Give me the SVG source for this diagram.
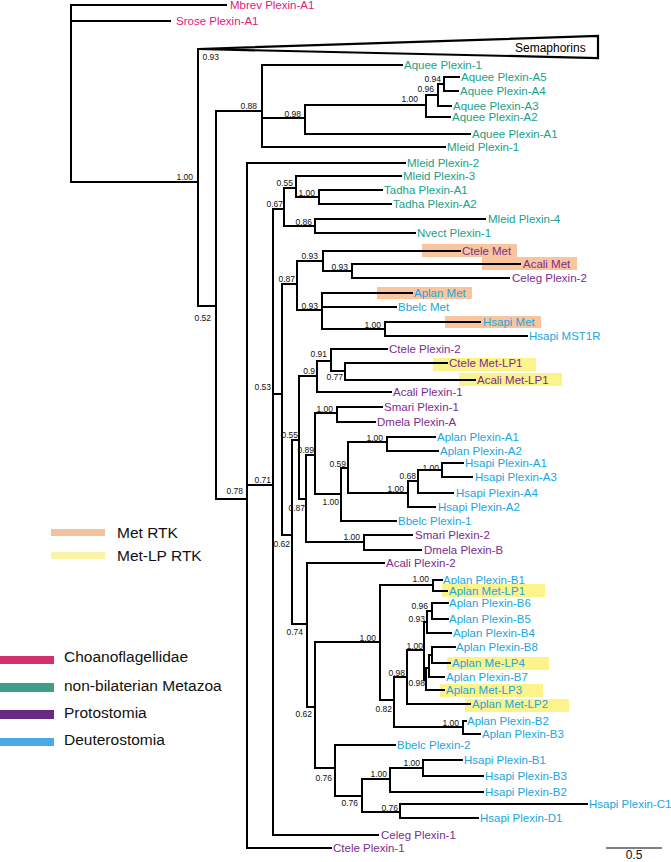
<svg xmlns="http://www.w3.org/2000/svg" width="671" height="862" viewBox="0 0 671 862">
<style>
text{font-family:"Liberation Sans",Arial,sans-serif}
.t{font-size:11.5px}
.ch{fill:#e0197d}.nb{fill:#1aa088}.pr{fill:#7b2c8c}.de{fill:#21a5e0}
.s{font-size:8.5px;fill:#111;text-anchor:end}
.lg{font-size:15.5px;fill:#111}
.met{fill:#f8c59e}.lp{fill:#fcf38a}
.br{fill:none;stroke:#000;stroke-width:2;stroke-linecap:square}
</style>
<rect width="671" height="862" fill="#fff"/>
<g id="leaves">
<g id="mbrev-plexin-a1"><text class="t ch" x="230" y="9">Mbrev Plexin-A1</text></g>
<g id="srose-plexin-a1"><text class="t ch" x="176" y="25">Srose Plexin-A1</text></g>
<g id="aquee-plexin-1"><text class="t nb" x="404" y="69">Aquee Plexin-1</text></g>
<g id="aquee-plexin-a5"><text class="t nb" x="461" y="81">Aquee Plexin-A5</text></g>
<g id="aquee-plexin-a4"><text class="t nb" x="460" y="95">Aquee Plexin-A4</text></g>
<g id="aquee-plexin-a3"><text class="t nb" x="453" y="110">Aquee Plexin-A3</text></g>
<g id="aquee-plexin-a2"><text class="t nb" x="452" y="121">Aquee Plexin-A2</text></g>
<g id="aquee-plexin-a1"><text class="t nb" x="472" y="138">Aquee Plexin-A1</text></g>
<g id="mleid-plexin-1"><text class="t nb" x="447" y="151">Mleid Plexin-1</text></g>
<g id="mleid-plexin-2"><text class="t nb" x="407" y="167">Mleid Plexin-2</text></g>
<g id="mleid-plexin-3"><text class="t nb" x="403" y="180">Mleid Plexin-3</text></g>
<g id="tadha-plexin-a1"><text class="t nb" x="384" y="194">Tadha Plexin-A1</text></g>
<g id="tadha-plexin-a2"><text class="t nb" x="393" y="208">Tadha Plexin-A2</text></g>
<g id="mleid-plexin-4"><text class="t nb" x="488" y="223">Mleid Plexin-4</text></g>
<g id="nvect-plexin-1"><text class="t nb" x="417" y="237">Nvect Plexin-1</text></g>
<g id="ctele-met"><rect class="met" x="422" y="244" width="95" height="13"/><text class="t pr" x="462" y="255">Ctele Met</text></g>
<g id="acali-met"><rect class="met" x="482" y="257" width="95" height="13"/><text class="t pr" x="523" y="268">Acali Met</text></g>
<g id="celeg-plexin-2"><text class="t pr" x="512" y="282">Celeg Plexin-2</text></g>
<g id="aplan-met"><rect class="met" x="377" y="287" width="95" height="12"/><text class="t de" x="414" y="297">Aplan Met</text></g>
<g id="bbelc-met"><text class="t de" x="398" y="311">Bbelc Met</text></g>
<g id="hsapi-met"><rect class="met" x="445" y="316" width="96" height="12"/><text class="t de" x="483" y="326">Hsapi Met</text></g>
<g id="hsapi-mst1r"><text class="t de" x="529" y="340">Hsapi MST1R</text></g>
<g id="ctele-plexin-2"><text class="t pr" x="389" y="353">Ctele Plexin-2</text></g>
<g id="ctele-met-lp1"><rect class="lp" x="433" y="358" width="103" height="13"/><text class="t pr" x="449" y="367">Ctele Met-LP1</text></g>
<g id="acali-met-lp1"><rect class="lp" x="459" y="373" width="103" height="13"/><text class="t pr" x="477" y="384">Acali Met-LP1</text></g>
<g id="acali-plexin-1"><text class="t pr" x="393" y="396">Acali Plexin-1</text></g>
<g id="smari-plexin-1"><text class="t pr" x="384" y="411">Smari Plexin-1</text></g>
<g id="dmela-plexin-a"><text class="t pr" x="377" y="426">Dmela Plexin-A</text></g>
<g id="aplan-plexin-a1"><text class="t de" x="437" y="441">Aplan Plexin-A1</text></g>
<g id="aplan-plexin-a2"><text class="t de" x="440" y="455">Aplan Plexin-A2</text></g>
<g id="hsapi-plexin-a1"><text class="t de" x="465" y="467">Hsapi Plexin-A1</text></g>
<g id="hsapi-plexin-a3"><text class="t de" x="475" y="481">Hsapi Plexin-A3</text></g>
<g id="hsapi-plexin-a4"><text class="t de" x="456" y="497">Hsapi Plexin-A4</text></g>
<g id="hsapi-plexin-a2"><text class="t de" x="438" y="511">Hsapi Plexin-A2</text></g>
<g id="bbelc-plexin-1"><text class="t de" x="398" y="525">Bbelc Plexin-1</text></g>
<g id="smari-plexin-2"><text class="t pr" x="415" y="539">Smari Plexin-2</text></g>
<g id="dmela-plexin-b"><text class="t pr" x="424" y="554">Dmela Plexin-B</text></g>
<g id="acali-plexin-2"><text class="t pr" x="386" y="567">Acali Plexin-2</text></g>
<g id="aplan-plexin-b1"><text class="t de" x="443" y="584">Aplan Plexin-B1</text></g>
<g id="aplan-met-lp1"><rect class="lp" x="442" y="584" width="103" height="13"/><text class="t de" x="449" y="595">Aplan Met-LP1</text></g>
<g id="aplan-plexin-b6"><text class="t de" x="449" y="607">Aplan Plexin-B6</text></g>
<g id="aplan-plexin-b5"><text class="t de" x="449" y="623">Aplan Plexin-B5</text></g>
<g id="aplan-plexin-b4"><text class="t de" x="453" y="637">Aplan Plexin-B4</text></g>
<g id="aplan-plexin-b8"><text class="t de" x="456" y="651">Aplan Plexin-B8</text></g>
<g id="aplan-me-lp4"><rect class="lp" x="447" y="657" width="102" height="13"/><text class="t de" x="452" y="667">Aplan Me-LP4</text></g>
<g id="aplan-plexin-b7"><text class="t de" x="446" y="681">Aplan Plexin-B7</text></g>
<g id="aplan-met-lp3"><rect class="lp" x="440" y="684" width="103" height="13"/><text class="t de" x="446" y="694">Aplan Met-LP3</text></g>
<g id="aplan-met-lp2"><rect class="lp" x="465" y="699" width="104" height="13"/><text class="t de" x="472" y="708">Aplan Met-LP2</text></g>
<g id="aplan-plexin-b2"><text class="t de" x="467" y="725">Aplan Plexin-B2</text></g>
<g id="aplan-plexin-b3"><text class="t de" x="482" y="738">Aplan Plexin-B3</text></g>
<g id="bbelc-plexin-2"><text class="t de" x="397" y="749">Bbelc Plexin-2</text></g>
<g id="hsapi-plexin-b1"><text class="t de" x="464" y="764">Hsapi Plexin-B1</text></g>
<g id="hsapi-plexin-b3"><text class="t de" x="485" y="780">Hsapi Plexin-B3</text></g>
<g id="hsapi-plexin-b2"><text class="t de" x="485" y="796">Hsapi Plexin-B2</text></g>
<g id="hsapi-plexin-c1"><text class="t de" x="589" y="808">Hsapi Plexin-C1</text></g>
<g id="hsapi-plexin-d1"><text class="t de" x="480" y="822">Hsapi Plexin-D1</text></g>
<g id="celeg-plexin-1"><text class="t pr" x="381" y="839">Celeg Plexin-1</text></g>
<g id="ctele-plexin-1"><text class="t pr" x="333" y="852">Ctele Plexin-1</text></g>
</g>
<g id="semaphorins">
<polygon points="198,49 598,36 598,58" fill="#fff" stroke="#000" stroke-width="2.2" stroke-linejoin="miter"/>
<text x="515" y="52" font-size="12" fill="#000">Semaphorins</text>
</g>
<g id="connectors">
<path class="br" d="M71 5V182M198 49V306M216 111V499M262 65V147M305 105V134M426 95V117M438 84V106M444 77V91M247 163V848M273 209V835M284 188V226M296 176V197M319 190V204M315 219V233M282 284V535M297 261V310M323 251V271M352 264V278M322 293V329M385 322V336M292 440V624M299 376V499M317 361V392M331 349V371M345 363V380M306 455V542M315 413V494M337 407V422M341 468V521M348 442V493M387 437V451M408 481V507M418 470V493M442 463V477M364 535V550M307 563V707M315 642V768M380 585V700M433 580V591M394 677V727M407 650V704M424 622V680M427 611V633M432 603V619M426 668V690M429 655V677M432 647V663M463 721V734M335 745V796M362 779V812M390 768V792M423 760V776M400 804V818"/>
<path class="br" d="M71 5H226M71 21H170M71 182H198M198 306H216M216 111H262M262 65H402M262 118H305M305 105H426M426 95H438M438 84H444M444 77H459M444 91H458M438 106H451M426 117H450M305 134H470M262 147H445M216 499H247M247 163H405M247 485H273M273 209H284M284 188H296M296 176H401M296 197H319M319 190H382M319 204H391M284 226H315M315 219H485M315 233H415M273 394H282M282 284H297M297 261H323M323 251H460M323 271H352M352 264H520M352 278H509M297 310H322M322 293H412M322 307H396M322 329H385M385 322H480M385 336H527M282 535H292M292 440H299M299 376H317M317 361H331M331 349H387M331 371H345M345 363H447M345 380H475M317 392H391M299 499H306M306 455H315M315 413H337M337 407H382M337 422H375M315 494H341M341 468H348M348 442H387M387 437H435M387 451H438M348 493H408M408 481H418M418 470H442M442 463H463M442 477H472M418 493H453M408 507H435M341 521H396M306 542H364M364 535H412M364 550H421M292 624H307M307 563H384M307 707H315M315 642H380M380 585H433M433 580H442M433 591H447M380 700H394M394 677H407M407 650H424M424 622H427M427 611H432M432 603H448M432 619H448M427 633H451M424 680H426M426 668H429M429 655H432M432 647H455M432 663H450M429 677H444M426 690H444M407 704H470M394 727H463M463 721H466M463 734H480M315 768H335M335 745H395M335 796H362M362 779H390M390 768H423M423 760H462M423 776H483M390 792H483M362 812H400M400 804H587M400 818H478M273 835H378M247 848H331"/>
</g>
<g id="support-values">
<text class="s" x="219" y="60">0.93</text>
<text class="s" x="193" y="180">1.00</text>
<text class="s" x="257" y="109">0.88</text>
<text class="s" x="301" y="117">0.98</text>
<text class="s" x="418" y="102">1.00</text>
<text class="s" x="434" y="92">0.96</text>
<text class="s" x="441" y="82">0.94</text>
<text class="s" x="211" y="321">0.52</text>
<text class="s" x="293" y="186">0.55</text>
<text class="s" x="315" y="196">1.00</text>
<text class="s" x="283" y="207">0.67</text>
<text class="s" x="312" y="225">0.86</text>
<text class="s" x="318" y="259">0.93</text>
<text class="s" x="348" y="270">0.93</text>
<text class="s" x="295" y="282">0.87</text>
<text class="s" x="318" y="309">0.93</text>
<text class="s" x="381" y="328">1.00</text>
<text class="s" x="327" y="357">0.91</text>
<text class="s" x="315" y="374">0.9</text>
<text class="s" x="343" y="380">0.77</text>
<text class="s" x="271" y="390">0.53</text>
<text class="s" x="333" y="412">1.00</text>
<text class="s" x="298" y="438">0.55</text>
<text class="s" x="314" y="453">0.89</text>
<text class="s" x="383" y="441">1.00</text>
<text class="s" x="346" y="467">0.59</text>
<text class="s" x="439" y="471">1.00</text>
<text class="s" x="416" y="479">0.68</text>
<text class="s" x="404" y="492">1.00</text>
<text class="s" x="271" y="483">0.71</text>
<text class="s" x="243" y="494">0.78</text>
<text class="s" x="339" y="505">1.00</text>
<text class="s" x="305" y="511">0.87</text>
<text class="s" x="360" y="540">1.00</text>
<text class="s" x="290" y="547">0.62</text>
<text class="s" x="429" y="582">1.00</text>
<text class="s" x="428" y="609">0.96</text>
<text class="s" x="425" y="622">0.93</text>
<text class="s" x="303" y="635">0.74</text>
<text class="s" x="376" y="641">1.00</text>
<text class="s" x="423" y="649">1.00</text>
<text class="s" x="405" y="676">0.98</text>
<text class="s" x="425" y="686">0.98</text>
<text class="s" x="392" y="712">0.82</text>
<text class="s" x="312" y="717">0.62</text>
<text class="s" x="459" y="726">1.00</text>
<text class="s" x="332" y="781">0.76</text>
<text class="s" x="358" y="806">0.76</text>
<text class="s" x="387" y="777">1.00</text>
<text class="s" x="420" y="766">1.00</text>
<text class="s" x="398" y="811">0.76</text>
</g>
<g id="scale-bar">
<path d="M606 848H662" stroke="#000" stroke-width="1.2"/>
<text x="634" y="859" font-size="12" text-anchor="middle" fill="#111">0.5</text>
</g>
<g id="legend-rtk">
<rect x="51" y="529" width="54" height="7" fill="#f3c29d"/>
<text class="lg" x="117" y="538">Met RTK</text>
<rect x="51" y="552" width="54" height="7" fill="#f8f3a6"/>
<text class="lg" x="117" y="561">Met-LP RTK</text>
</g>
<g id="legend-taxa">
<rect x="0" y="656" width="54" height="8" fill="#d3306f"/>
<text class="lg" x="64" y="662">Choanoflagellidae</text>
<rect x="0" y="683" width="54" height="9" fill="#3f9d89"/>
<text class="lg" x="64" y="691">non-bilaterian Metazoa</text>
<rect x="0" y="710" width="54" height="9" fill="#672a83"/>
<text class="lg" x="64" y="718">Protostomia</text>
<rect x="0" y="738" width="54" height="8" fill="#4aaae1"/>
<text class="lg" x="64" y="745">Deuterostomia</text>
</g>
</svg>
